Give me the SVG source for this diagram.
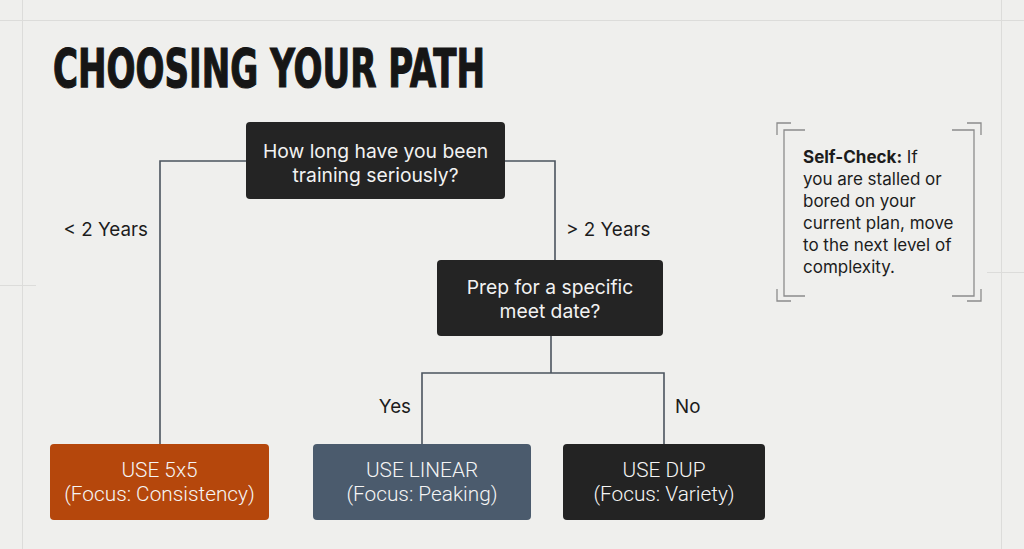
<svg xmlns="http://www.w3.org/2000/svg" width="1024" height="549" viewBox="0 0 1024 549">
<style>
.bg-line{stroke:#dcdcda;stroke-width:1;fill:none}
.conn{stroke:#4b545e;stroke-width:1.6;fill:none}
.node{fill:#242424}
.ntext{font-family:Inter,"Noto Sans",sans-serif;font-size:19.3px;fill:#f2f2f2;text-anchor:middle}
.btext{font-family:Roboto,"Noto Sans",sans-serif;font-weight:300;font-size:20.8px;fill:#f5f5f5;text-anchor:middle}
.label{font-family:Inter,"Noto Sans",sans-serif;font-size:18.8px;fill:#1c1c1c}
.note{font-family:Inter,"Noto Sans",sans-serif;font-size:17px;fill:#1c1c1c}
.brk{stroke:#8c8c8c;stroke-width:1.3;fill:none}
</style>
<rect width="1024" height="549" fill="#efefed"/>
<g id="background-grid">
<line class="bg-line" x1="0" y1="20.5" x2="1024" y2="20.5"/>
<line class="bg-line" x1="22.5" y1="0" x2="22.5" y2="549"/>
<line class="bg-line" x1="1001.5" y1="0" x2="1001.5" y2="549"/>
<line class="bg-line" x1="0" y1="285.5" x2="36" y2="285.5"/>
<line class="bg-line" x1="987" y1="272.5" x2="1024" y2="272.5"/>
</g>
<g id="title">
<text x="53" y="87" font-family="'DejaVu Sans Condensed','DejaVu Sans',sans-serif" font-weight="bold" font-size="53" fill="#161616" stroke="#161616" stroke-width="1.2" textLength="432" lengthAdjust="spacingAndGlyphs">CHOOSING YOUR PATH</text>
</g>
<g id="connectors">
<path class="conn" d="M246,161 H160 V444"/>
<path class="conn" d="M505,161 H555 V260"/>
<path class="conn" d="M551,336 V373 M422,444 V373 H664 V444"/>
</g>
<g id="edge-labels">
<text class="label" x="148" y="236" text-anchor="end">&lt; 2 Years</text>
<text class="label" x="566" y="236">&gt; 2 Years</text>
<text class="label" x="411" y="413" text-anchor="end">Yes</text>
<text class="label" x="675" y="413">No</text>
</g>
<g id="node-training">
<rect class="node" x="246" y="122" width="259" height="77" rx="4"/>
<text class="ntext" x="375.5" y="158">How long have you been</text>
<text class="ntext" x="375.5" y="182">training seriously?</text>
</g>
<g id="node-meet">
<rect class="node" x="437" y="260" width="226" height="76" rx="4"/>
<text class="ntext" x="550" y="294">Prep for a specific</text>
<text class="ntext" x="550" y="318">meet date?</text>
</g>
<g id="node-5x5">
<rect x="50" y="444" width="219" height="76" rx="4" fill="#b5470c"/>
<text class="btext" x="159.5" y="477">USE 5x5</text>
<text class="btext" x="159.5" y="501">(Focus: Consistency)</text>
</g>
<g id="node-linear">
<rect x="313" y="444" width="218" height="76" rx="4" fill="#4b5b6d"/>
<text class="btext" x="422" y="477">USE LINEAR</text>
<text class="btext" x="422" y="501">(Focus: Peaking)</text>
</g>
<g id="node-dup">
<rect x="563" y="444" width="202" height="76" rx="4" fill="#232323"/>
<text class="btext" x="664" y="477">USE DUP</text>
<text class="btext" x="664" y="501">(Focus: Variety)</text>
</g>
<g id="self-check">
<path class="brk" d="M791,123 H777 V135 M777,289 V301 H791"/>
<path class="brk" d="M805,130 H784 V296 H805"/>
<path class="brk" d="M967,123 H981 V135 M981,289 V301 H967"/>
<path class="brk" d="M952,130 H974 V296 H952"/>
<text class="note" x="803" y="163"><tspan font-weight="bold">Self-Check:</tspan> If</text>
<text class="note" x="803" y="185">you are stalled or</text>
<text class="note" x="803" y="207">bored on your</text>
<text class="note" x="803" y="229">current plan, move</text>
<text class="note" x="803" y="251">to the next level of</text>
<text class="note" x="803" y="273">complexity.</text>
</g>
</svg>
